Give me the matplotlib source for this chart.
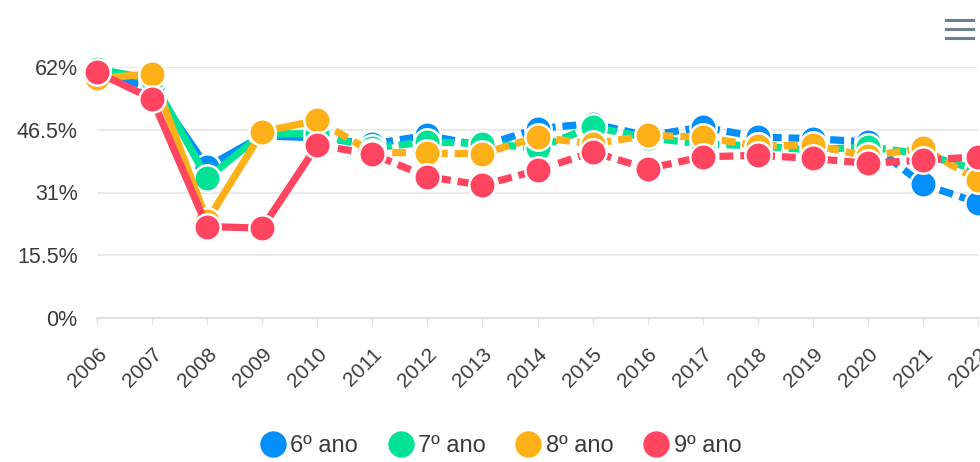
import matplotlib
matplotlib.use("Agg")
import matplotlib.pyplot as plt
from matplotlib.lines import Line2D

plt.rcParams['font.family'] = ['Liberation Sans', 'DejaVu Sans']
plt.rcParams['lines.scale_dashes'] = False

years = [2006, 2007, 2008, 2009, 2010, 2011, 2012, 2013, 2014, 2015,
         2016, 2017, 2018, 2019, 2020, 2021, 2022]
ano6 = [60.5, 57.0, 37.3, 45.0, 44.5, 43.0, 45.1, 42.5, 46.8, 48.0,
        45.0, 47.2, 44.7, 44.3, 43.5, 33.0, 28.5]
ano7 = [61.5, 59.0, 34.5, 45.5, 45.5, 42.0, 43.5, 43.1, 42.0, 47.2,
        44.5, 43.0, 42.5, 41.5, 42.3, 40.5, 36.5]
ano8 = [59.2, 60.3, 24.0, 46.0, 48.8, 41.0, 40.7, 40.6, 44.7, 43.0,
        45.1, 44.7, 42.5, 42.7, 40.0, 41.9, 34.0]
ano9 = [60.7, 54.2, 22.6, 22.2, 42.7, 40.5, 34.9, 32.8, 36.5, 41.0,
        36.9, 39.8, 40.2, 39.4, 38.2, 39.0, 39.8]
series = [("6º ano", ano6, "#008FFB"), ("7º ano", ano7, "#00E396"),
          ("8º ano", ano8, "#FEB019"), ("9º ano", ano9, "#FF4560")]
yticks = [0, 15.5, 31, 46.5, 62]
ytick_labels = ["0%", "15.5%", "31%", "46.5%", "62%"]

txt = "#373d3f"
fig = plt.figure(figsize=(9.8, 4.62), dpi=100)
ax = fig.add_axes([97 / 980, 144 / 462, 881 / 980, 251 / 462])

split = years.index(2010)
for i, (name, vals, col) in enumerate(series):
    z = 3 + i
    ax.plot(years[:split + 1], vals[:split + 1], color=col, lw=5.2,
            solid_capstyle='butt', zorder=z, clip_on=False)
    ax.plot(years[split:], vals[split:], color=col, lw=5.2,
            dashes=(10, 5), dash_capstyle='butt', zorder=z, clip_on=False)
    ax.plot(years, vals, 'o', color=col, ms=19, mec='white', mew=1.8,
            zorder=z + 0.5, clip_on=False)

ax.set_xlim(2006, 2022)
ax.set_ylim(0, 62)
ax.set_yticks(yticks)
ax.set_yticklabels(ytick_labels, fontsize=15.5, color=txt)
ax.set_xticks(years)
ax.set_xticklabels([str(y) for y in years], rotation=45, ha='right',
                   va='top', fontsize=15, color=txt, rotation_mode='anchor')
ax.tick_params(axis='y', length=0, pad=14)
ax.tick_params(axis='x', length=5, color='#e0e0e0', pad=14)
ax.grid(axis='y', color='#e6e6e6', lw=1.2, zorder=0)
for s in ['top', 'right', 'left']:
    ax.spines[s].set_visible(False)
ax.spines['bottom'].set_color('#e0e0e0')
ax.spines['bottom'].set_linewidth(1.5)

handles = [Line2D([], [], ls='none', marker='o', ms=18, color=c, mec=c)
           for _, _, c in series]
fig.legend(handles, [s[0] for s in series], loc='center',
           bbox_to_anchor=(500 / 980, 1 - 446 / 462), ncol=4, frameon=False,
           fontsize=17, labelcolor=txt, handletextpad=0.15, columnspacing=1.2,
           handlelength=1.2)

# toolbar menu icon
for yy in [20, 29, 38]:
    fig.add_artist(Line2D([946 / 980, 973 / 980], [1 - yy / 462, 1 - yy / 462],
                          color='#6e8192', lw=2.2))

fig.savefig("out.png", dpi=100)
